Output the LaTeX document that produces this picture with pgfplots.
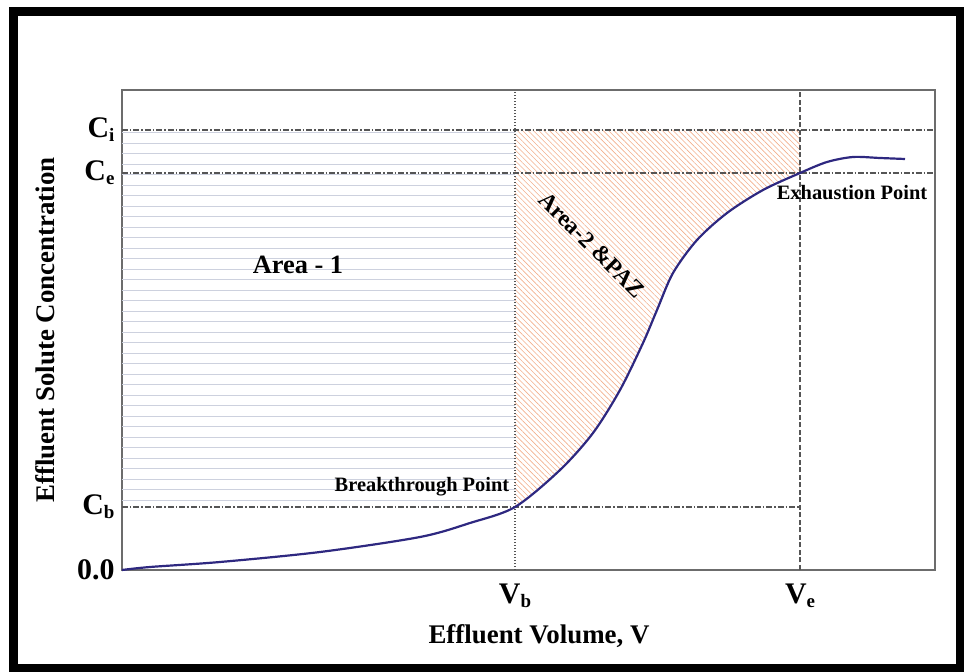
\documentclass[border=0pt]{standalone}
\usepackage{fontspec}
\setmainfont{Liberation Serif}
\usepackage{pgfplots}
\pgfplotsset{compat=1.18}
\usetikzlibrary{patterns.meta}
\definecolor{curvec}{RGB}{46,40,128}
\definecolor{refl}{RGB}{85,85,85}
\definecolor{hlinec}{RGB}{205,209,222}
\definecolor{hatchc}{RGB}{242,175,140}
\newcommand{\sub}[1]{\raisebox{-0.3ex}{\fontsize{19}{20}\selectfont #1}}
\begin{document}
\begin{tikzpicture}
\begin{axis}[
  scale only axis, width=813bp, height=480bp,
  xmin=0, xmax=813, ymin=0, ymax=480,
  axis line style={draw=gray!85!black, line width=1.3bp},
  xtick={393,678}, xticklabels={{V\sub{b}},{V\sub{e}}},
  ytick={0,63,397,440}, yticklabels={0.0,{C\sub{b}},{C\sub{e}},{C\sub{i}}},
  tick style={draw=none},
  ticklabel style={font=\fontsize{30}{34}\selectfont\bfseries},
  xticklabel style={yshift=-10bp},
  yticklabel style={xshift=-4bp},
  clip=false,
]
% Area-1 horizontal lines
\pgfplotsinvokeforeach{70,80.5,...,436}{
  \addplot[hlinec, line width=0.8bp, forget plot] coordinates {(0,#1) (393,#1)};
}
% Area-2 hatch
\addplot[draw=none, pattern={Lines[angle=-45, distance=3.8bp, line width=0.6bp]}, pattern color=hatchc, forget plot]
 coordinates {(393,440) (393,63) (438,100) (471,137) (498,180) (521,227) (535,260) (551,297) (575,330) (605,357) (641,380) (678,397) (678,440)} -- cycle;
% reference lines
\addplot[refl, line width=1.1bp, dash pattern=on 6bp off 2bp on 1.5bp off 2bp] coordinates {(0,440) (813,440)};
\addplot[refl, line width=1.1bp, dash pattern=on 6bp off 2bp on 1.5bp off 2bp] coordinates {(0,397) (813,397)};
\addplot[refl, line width=1.1bp, dash pattern=on 6bp off 2bp on 1.5bp off 2bp] coordinates {(0,63) (678,63)};
\addplot[refl, line width=1.1bp, dash pattern=on 1.5bp off 1.5bp] coordinates {(393,0) (393,480)};
\addplot[refl, line width=1.1bp, dash pattern=on 5bp off 2.5bp] coordinates {(678,0) (678,480)};
% breakthrough curve
\addplot[curvec, line width=2.2bp, smooth] coordinates {
(0,0) (28,3) (98,8) (198,18) (298,33) (348,47) (393,63) (438,100) (471,137) (498,180) (521,227) (535,260) (551,297) (575,330) (605,357) (641,380) (678,397) (705,408) (731,413) (758,412) (783,411)};
% annotations
\node[font=\fontsize{26.5}{30}\selectfont\bfseries] at (axis cs:176,305) {Area - 1};
\node[rotate=-45, font=\fontsize{23.5}{26}\selectfont\bfseries] at (axis cs:470,325) {Area-2 \&PAZ};
\node[font=\fontsize{20.5}{23}\selectfont\bfseries] at (axis cs:300,83) {Breakthrough Point};
\node[font=\fontsize{20.5}{23}\selectfont\bfseries] at (axis cs:730,377) {Exhaustion Point};
\end{axis}
\node[rotate=90, font=\fontsize{27}{30}\selectfont\bfseries] at (-77bp,240bp) {Effluent Solute Concentration};
\node[font=\fontsize{27}{30}\selectfont\bfseries] at (417bp,-66bp) {Effluent Volume, V};
\draw[line width=9bp] (-108.5bp,-98.5bp) rectangle (838.5bp,558bp);
\pgfresetboundingbox
\useasboundingbox (-122bp,-102bp) rectangle (842bp,570bp);
\end{tikzpicture}
\end{document}
